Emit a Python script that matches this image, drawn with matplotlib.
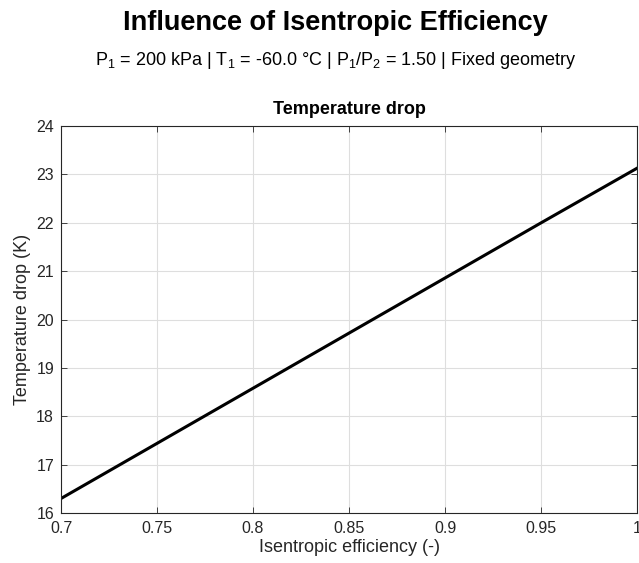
import matplotlib
matplotlib.use("Agg")
import matplotlib.pyplot as plt

plt.rcParams['font.family'] = ['Liberation Sans', 'DejaVu Sans']
plt.rcParams['mathtext.default'] = 'regular'

# Data
efficiency = [0.70, 0.75, 0.80, 0.85, 0.90, 0.95, 1.00]
temp_drop = [16.30, 17.44, 18.58, 19.72, 20.86, 22.00, 23.13]

x_ticks = [0.7, 0.75, 0.8, 0.85, 0.9, 0.95, 1]
x_ticklabels = ['0.7', '0.75', '0.8', '0.85', '0.9', '0.95', '1']
y_ticks = [16, 17, 18, 19, 20, 21, 22, 23, 24]

txt = '#262626'
fig = plt.figure(figsize=(6.39, 5.63), dpi=100)
ax = fig.add_axes([0.0955, 0.0888, 0.9015, 0.6872])

ax.plot(efficiency, temp_drop, color='black', linewidth=2.2)
ax.set_xlim(0.7, 1.0)
ax.set_ylim(16, 24)
ax.set_xticks(x_ticks)
ax.set_xticklabels(x_ticklabels)
ax.set_yticks(y_ticks)
ax.grid(True, color='#dedede', linewidth=0.8)
ax.tick_params(direction='in', top=True, right=True, length=4,
               labelsize=11.5, colors=txt, width=0.6)
ax.tick_params(axis='x', pad=6)
ax.tick_params(axis='y', pad=5)
for s in ax.spines.values():
    s.set_color(txt)
    s.set_linewidth(0.8)

ax.set_title('Temperature drop', fontsize=13, fontweight='bold', pad=9)
ax.set_xlabel('Isentropic efficiency (-)', fontsize=13, color=txt, labelpad=2)
ax.set_ylabel('Temperature drop (K)', fontsize=13, color=txt, labelpad=4)

fig.text(0.525, 0.959, 'Influence of Isentropic Efficiency', ha='center', va='center',
         fontsize=19.5, fontweight='bold')
fig.text(0.525, 0.892, r'P$_1$ = 200 kPa | T$_1$ = -60.0 °C | P$_1$/P$_2$ = 1.50 | Fixed geometry',
         ha='center', va='center', fontsize=13)

fig.savefig('out.png', dpi=100)
